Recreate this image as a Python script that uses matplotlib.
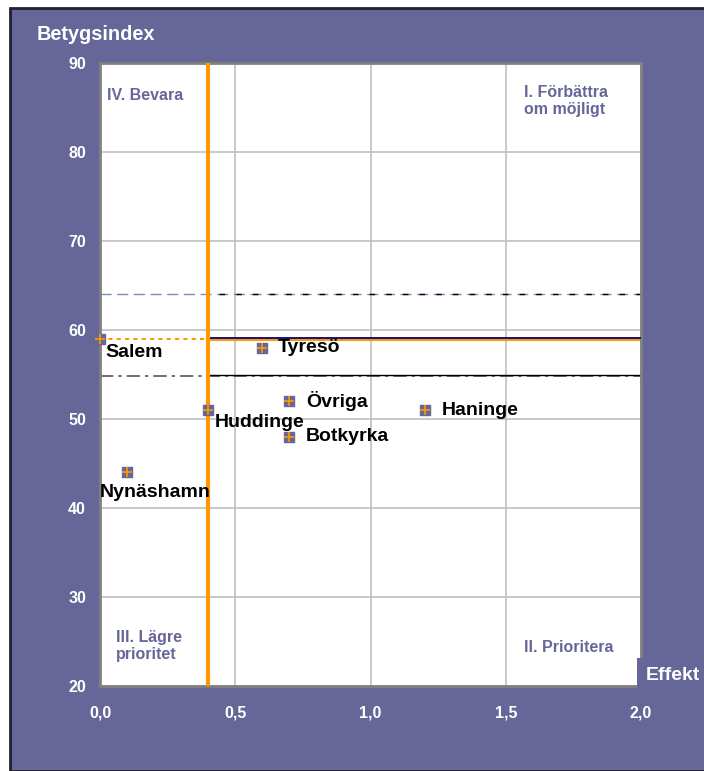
import matplotlib
matplotlib.use("Agg")
import matplotlib.pyplot as plt
from matplotlib.patches import Rectangle

plt.rcParams["font.family"] = ["Liberation Sans", "DejaVu Sans"]

# Data
names = ["Salem", "Tyresö", "Övriga", "Huddinge", "Botkyrka", "Haninge", "Nynäshamn"]
effekt = [0.0, 0.6, 0.7, 0.4, 0.7, 1.2, 0.1]
betyg = [59, 58, 52, 51, 48, 51, 44]
# label offsets in points (dx, dy, ha, va)
label_offsets = [(4, -4, "left", "top"), (11, 0, "left", "center"), (12, 0, "left", "center"),
                 (5, -3, "left", "top"), (12, 0, "left", "center"), (12, 0, "left", "center"),
                 (-20, -8, "left", "top")]

x_ticks = [0.0, 0.5, 1.0, 1.5, 2.0]
x_ticklabels = ["0,0", "0,5", "1,0", "1,5", "2,0"]
y_ticks = [20, 30, 40, 50, 60, 70, 80, 90]

ref_x = 0.4          # orange vertical line
ref_dash = 64        # dashed line
ref_mean = 59        # solid/dotted mean line
ref_dashdot = 54.85  # dash-dot line

PURPLE = "#666699"
ORANGE = "#ff9900"

fig = plt.figure(figsize=(7.04, 7.71), dpi=100)
fig.patch.set_facecolor("white")
# purple panel
bg = Rectangle((10 / 704, 0), 1, 1 - 8 / 771, transform=fig.transFigure,
               facecolor=PURPLE, edgecolor="#202030", linewidth=2, zorder=-10)
fig.patches.append(bg)

ax = fig.add_axes([100 / 704, 1 - 686 / 771, 541 / 704, 623 / 771])
ax.set_zorder(1)
ax.set_facecolor("white")
ax.set_xlim(0, 2)
ax.set_ylim(20, 90)
ax.set_xticks(x_ticks)
ax.set_xticklabels(x_ticklabels)
ax.set_yticks(y_ticks)
ax.grid(True, color="#c0c0c0", linewidth=1.2, zorder=0)
ax.set_axisbelow(True)
ax.tick_params(length=0, colors="white", labelsize=11.5)
ax.tick_params(axis="x", pad=14)
ax.tick_params(axis="y", pad=10)
for lbl in ax.get_xticklabels() + ax.get_yticklabels():
    lbl.set_fontweight("bold")
    lbl.set_color("white")
for s in ax.spines.values():
    s.set_color("#808080")
    s.set_linewidth(2)

# reference lines
ax.axhline(ref_dash, color="#8888bb", linestyle=(0, (8, 4)), linewidth=1, zorder=2)
ax.plot([ref_x, 2], [ref_dash, ref_dash], color="black", linestyle=(4, (4, 8)), linewidth=1, zorder=2)
ax.plot([0, 2], [ref_mean, ref_mean], color=ORANGE, linestyle=(0, (2, 2)), linewidth=1.5, zorder=2)
ax.plot([ref_x, 2], [ref_mean - 0.08, ref_mean - 0.08], color=ORANGE, linewidth=1.5, zorder=2)
ax.plot([ref_x, 2], [ref_mean + 0.05, ref_mean + 0.05], color="#000080", linewidth=1.3, zorder=3)
ax.axhline(ref_dashdot, color="#555555", linestyle=(0, (8, 3, 2, 3)), linewidth=1.2, zorder=2)
ax.plot([ref_x, 2], [ref_dashdot + 0.05, ref_dashdot + 0.05], color="black", linewidth=1, zorder=2)
ax.axvline(ref_x, color=ORANGE, linewidth=3, zorder=3)

# points
ax.scatter(effekt, betyg, marker="s", s=55, color=PURPLE, zorder=5, clip_on=False)
ax.scatter(effekt, betyg, marker="+", s=55, color=ORANGE, linewidths=1.2, zorder=6, clip_on=False)
for n, x, y, (dx, dy, ha, va) in zip(names, effekt, betyg, label_offsets):
    ax.annotate(n, (x, y), xytext=(dx, dy), textcoords="offset points", ha=ha, va=va,
                fontsize=14, fontweight="bold", color="black", zorder=7)

# quadrant labels
qkw = dict(fontsize=11.5, fontweight="bold", color=PURPLE, linespacing=1.15, zorder=10)
fig.text(107 / 704, 1 - 95 / 771, "IV. Bevara", va="center", ha="left", **qkw)
fig.text(524 / 704, 1 - 101 / 771, "I. Förbättra\nom möjligt", va="center", ha="left", **qkw)
fig.text(116 / 704, 1 - 646 / 771, "III. Lägre\nprioritet", va="center", ha="left", **qkw)
fig.text(524 / 704, 1 - 648 / 771, "II. Prioritera", va="center", ha="left", **qkw)

# axis titles
fig.text(37 / 704, 1 - 34 / 771, "Betygsindex", fontsize=14.3, fontweight="bold", color="white",
         va="center", ha="left", zorder=10)
fig.text(646 / 704, 1 - 675 / 771, "Effekt", fontsize=14, fontweight="bold", color="white",
         va="center", ha="left", zorder=10,
         bbox=dict(boxstyle="square,pad=0.45", facecolor=PURPLE, edgecolor="none"))

fig.savefig("out.png", dpi=100, facecolor=fig.get_facecolor())
